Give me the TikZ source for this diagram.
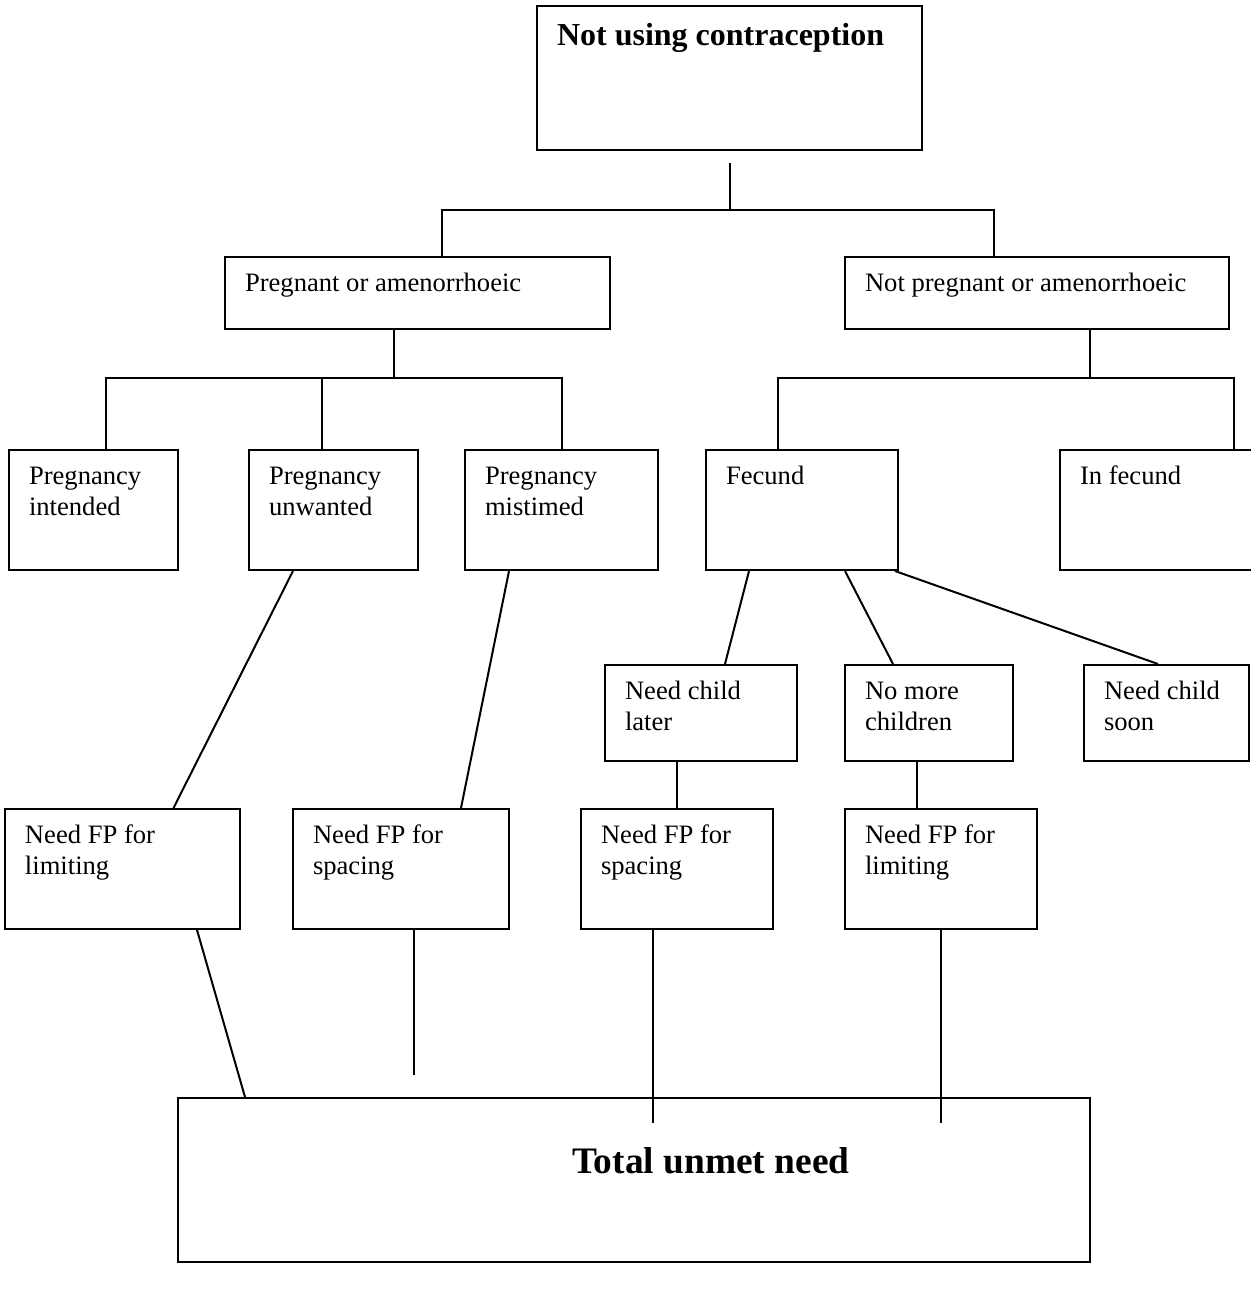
\documentclass[tikz,border=0pt]{standalone}
\usepackage{fontspec}
\setmainfont{Liberation Serif}
\usepackage{tikz}
\usetikzlibrary{calc}

\begin{document}
\begin{tikzpicture}[
  x=0.5pt,y=-0.5pt,
  box/.style={draw,line width=1pt,anchor=north west,inner xsep=10pt,inner ysep=0pt,
              align=flush left,text height=17pt,font=\fontsize{13.3}{15.6}\selectfont},
  flat/.style={text depth=19pt},
  mid/.style={text depth=31pt},
  tall/.style={text depth=43pt},
  link/.style={line width=1pt}
]
\useasboundingbox (0,0) rectangle (1251,1290);

% top level
\node[box,text width=172.5pt,text height=20pt,text depth=52pt,
      font=\fontsize{16}{18.4}\bfseries] (top) at (536,5) {Not using contraception};
\node[box,flat,text width=172.5pt] (preg) at (224,256) {Pregnant or amenorrhoeic};
\node[box,flat,text width=172pt] (npreg) at (844,256) {Not pregnant or amenorrhoeic};

% second level
\node[box,tall,text width=64.5pt] (pi) at (8,449) {Pregnancy\\intended};
\node[box,tall,text width=64.5pt] (pu) at (248,449) {Pregnancy\\unwanted};
\node[box,tall,text width=76.5pt] (pm) at (464,449) {Pregnancy\\mistimed};
\node[box,tall,text width=76pt] (fec) at (705,449) {Fecund};
\node[box,tall,text width=77pt] (inf) at (1059,449) {In fecund};

% desires of fecund women
\node[box,mid,text width=76pt] (ncl) at (604,664) {Need child\\later};
\node[box,mid,text width=64pt] (nmc) at (844,664) {No more\\children};
\node[box,mid,text width=62.5pt] (ncs) at (1083,664) {Need child\\soon};

% need for family planning
\node[box,tall,text width=97.5pt] (lim1) at (4,808) {Need FP for\\limiting};
\node[box,tall,text width=88pt] (sp1) at (292,808) {Need FP for\\spacing};
\node[box,tall,text width=76pt] (sp2) at (580,808) {Need FP for\\spacing};
\node[box,tall,text width=76pt] (lim2) at (844,808) {Need FP for\\limiting};

% total
\node[draw,line width=1pt,anchor=north west,inner sep=0pt,
      minimum width=456pt,minimum height=82pt] (total) at (177,1097) {};
\node[anchor=base west,inner sep=0pt,font=\fontsize{18.7}{22}\bfseries] (tun) at (572,1173) {Total unmet need};

% tree links
\coordinate (j0) at ([yshift=-29.5pt]top.south);
\draw[link] ([yshift=-6pt]top.south) -- (j0);
\draw[link] ([xshift=12.25pt]preg.north) |- (j0) -| ([xshift=-21.5pt]npreg.north);

\coordinate (j1) at ([xshift=-11.75pt,yshift=-24pt]preg.south);
\draw[link] ([xshift=-11.75pt]preg.south) -- (j1);
\draw[link] ([xshift=6.25pt]pi.north) |- (j1) -| (pm.north);
\draw[link] ([xshift=-5.75pt]pu.north) -- ([xshift=-5.75pt]pu.north |- j1);

\coordinate (j2) at ([xshift=26.5pt,yshift=-24pt]npreg.south);
\draw[link] ([xshift=26.5pt]npreg.south) -- (j2);
\draw[link] ([xshift=-12pt]fec.north) |- (j2) -| ([xshift=38.5pt]inf.north);

\draw[link] ([xshift=-26.5pt]fec.south) -- ([xshift=12pt]ncl.north);
\draw[link] ([xshift=21.5pt]fec.south) -- ([xshift=-18pt]nmc.north);
\draw[link] ([xshift=-2pt]fec.south east) -- ([xshift=-4.25pt]ncs.north);

\draw[link] (sp2.north |- ncl.south) -- (sp2.north);
\draw[link] ([xshift=-6pt]nmc.south) -- ([xshift=-12pt]lim2.north);
\draw[link] ([xshift=-20.25pt]pu.south) -- ([xshift=25.5pt]lim1.north);
\draw[link] ([xshift=-26.25pt]pm.south) -- ([xshift=30pt]sp1.north);

% into the total
\coordinate (e1) at ([xshift=6.25pt,yshift=-72.5pt]sp1.south);
\coordinate (e2) at ([xshift=-12pt,yshift=-96.5pt]sp2.south);
\coordinate (e3) at ([yshift=-96.5pt]lim2.south);
\draw[link] ([xshift=37.25pt]lim1.south) -- ([xshift=34pt]total.north west);
\draw[link] ([xshift=6.25pt]sp1.south) -- (e1);
\draw[link] ([xshift=-12pt]sp2.south) -- (e2);
\draw[link] (lim2.south) -- (e3);
\end{tikzpicture}
\end{document}
